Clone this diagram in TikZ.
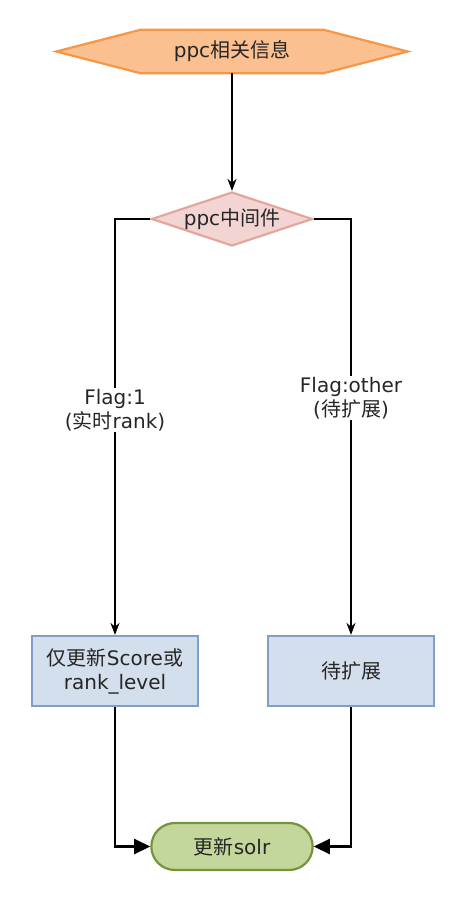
\documentclass[tikz,border=0pt]{standalone}
\usepackage{fontspec}
\setmainfont{DejaVu Sans}
\newfontfamily\cj{Noto Sans CJK SC}
\usetikzlibrary{shapes.geometric, shapes.misc, arrows.meta}

\definecolor{hexfill}{HTML}{FAC090}
\definecolor{hexline}{HTML}{F79646}
\definecolor{decfill}{HTML}{F2D5D2}
\definecolor{decline}{HTML}{E3A59D}
\definecolor{boxfill}{HTML}{D4DFED}
\definecolor{boxline}{HTML}{809EC9}
\definecolor{endfill}{HTML}{C3D69B}
\definecolor{endline}{HTML}{76923C}

\begin{document}
\begin{tikzpicture}[x=1pt, y=-1pt,
	every node/.style={font=\fontsize{20}{24}\selectfont, text=black!85},
	hexa/.style={draw=hexline, fill=hexfill, line width=2.2pt, line join=miter},
	decision/.style={diamond, draw=decline, fill=decfill, line width=2.2pt, minimum width=161, minimum height=54, inner sep=0pt, aspect=3},
	procbox/.style={rectangle, draw=boxline, fill=boxfill, line width=2.2pt, minimum width=166, minimum height=70, align=center},
	ending/.style={rounded rectangle, draw=endline, fill=endfill, line width=2.2pt, minimum width=168, minimum height=47},
	flow/.style={line width=2.2pt, -{Stealth[length=12pt, width=9pt]}},
	flowbig/.style={line width=2.2pt, -{Triangle[length=16pt, width=15pt]}},
	flag/.style={fill=white, inner sep=1pt, align=center}
]
	\useasboundingbox (0,0) rectangle (465,899);

	% start
	\node[minimum width=351, minimum height=43, inner sep=0pt] (info) at (232,51.5) {};
	\draw[hexa] (info.west) -- ([xshift=84pt]info.north west) -- ([xshift=-84pt]info.north east)
		-- (info.east) -- ([xshift=-84pt]info.south east) -- ([xshift=84pt]info.south west) -- cycle;
	\node at (info) {ppc{\cj 相关信息}};

	\node[decision] (mid) at (232,219) {ppc{\cj 中间件}};

	\node[procbox] (only) at (115,671) {{\cj 仅更新}Score{\cj 或}\\rank\_level};
	\node[procbox] (tbd) at (351,671) {{\cj 待扩展}};

	\node[ending] (solr) at (232,846.5) {{\cj 更新}solr};

	% connectors
	\draw[flow] (info.south) -- (mid.north);
	\draw[flow] (mid.west) -| (only.north) node[flag, pos=0.73] {Flag:1\\({\cj 实时}rank)};
	\draw[flow] (mid.east) -| (tbd.north) node[flag, pos=0.715] {Flag:other\\({\cj 待扩展})};

	\draw[flowbig] (only.south) |- (solr.west);
	\draw[flowbig] (tbd.south) |- (solr.east);
\end{tikzpicture}
\end{document}
